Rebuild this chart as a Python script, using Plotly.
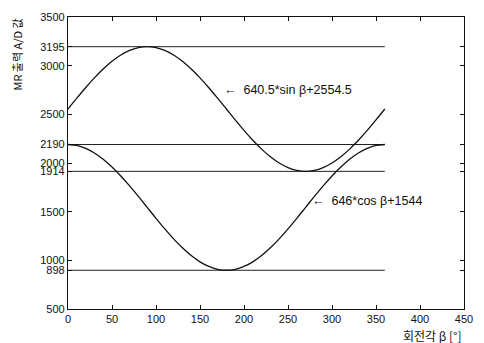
import plotly.graph_objects as go

beta = [0, 10, 20, 30, 40, 50, 60, 70, 80, 90, 100, 110, 120, 130, 140, 150, 160, 170, 180,
        190, 200, 210, 220, 230, 240, 250, 260, 270, 280, 290, 300, 310, 320, 330, 340, 350, 360]
sin_curve = [2554.5, 2665.7, 2773.6, 2874.8, 2966.2, 3045.1, 3109.2, 3156.4, 3185.3, 3195.0,
             3185.3, 3156.4, 3109.2, 3045.1, 2966.2, 2874.8, 2773.6, 2665.7, 2554.5,
             2443.3, 2335.4, 2234.3, 2142.8, 2063.9, 1999.8, 1952.6, 1923.7, 1914.0,
             1923.7, 1952.6, 1999.8, 2063.9, 2142.8, 2234.3, 2335.4, 2443.3, 2554.5]
cos_curve = [2190.0, 2180.2, 2151.0, 2103.5, 2038.9, 1959.2, 1867.0, 1764.9, 1656.2, 1544.0,
             1431.8, 1323.1, 1221.0, 1128.8, 1049.1, 984.5, 937.0, 907.8, 898.0,
             907.8, 937.0, 984.5, 1049.1, 1128.8, 1221.0, 1323.1, 1431.8, 1544.0,
             1656.2, 1764.9, 1867.0, 1959.2, 2038.9, 2103.5, 2151.0, 2180.2, 2190.0]
ref_levels = [3195, 2190, 1914, 898]
ref_x = [0, 360]
y_ticks = [500, 898, 1000, 1500, 1914, 2000, 2190, 2500, 3000, 3195, 3500]
x_ticks = [0, 50, 100, 150, 200, 250, 300, 350, 400, 450]

fig = go.Figure()
for lv in ref_levels:
    fig.add_trace(go.Scatter(x=ref_x, y=[lv, lv], mode="lines",
                             line=dict(color="#222", width=1), showlegend=False, hoverinfo="skip"))
fig.add_trace(go.Scatter(x=beta, y=sin_curve, mode="lines", line=dict(color="#111", width=1.3, shape="spline"),
                         showlegend=False))
fig.add_trace(go.Scatter(x=beta, y=cos_curve, mode="lines", line=dict(color="#111", width=1.3, shape="spline"),
                         showlegend=False))

font = dict(family="Liberation Sans, Arial, sans-serif", size=11, color="#111")
afont = dict(family="Liberation Sans, Arial, sans-serif", size=12.5, color="#111")
fig.add_annotation(x=175, y=2745, xref="x", yref="y", text="←  640.5*sin β+2554.5", showarrow=False,
                   xanchor="left", yanchor="middle", font=afont)
fig.add_annotation(x=275, y=1607, xref="x", yref="y", text="←  646*cos β+1544", showarrow=False,
                   xanchor="left", yanchor="middle", font=afont)
fig.add_annotation(x=1.0, y=-0.055, xref="paper", yref="paper", text="회전각 β [°]", showarrow=False,
                   xanchor="right", yanchor="top",
                   font=dict(family="Noto Sans CJK KR, sans-serif", size=12, color="#111"))
fig.add_annotation(x=-0.13, y=1.0, xref="paper", yref="paper", text="MR 출력 A/D 값", showarrow=False,
                   textangle=-90, xanchor="center", yanchor="top",
                   font=dict(family="Noto Sans CJK KR, sans-serif", size=11, color="#111"))

axis_common = dict(showline=True, linecolor="#111", linewidth=1.2, mirror="ticks", ticks="inside",
                   ticklen=4, tickcolor="#111", showgrid=False, zeroline=False, tickfont=font)
fig.update_xaxes(range=[0, 450], tickvals=x_ticks, **axis_common)
fig.update_yaxes(range=[500, 3500], tickvals=y_ticks, **axis_common)

fig.update_layout(width=484, height=343, margin=dict(l=68, r=11, t=11, b=34),
                  plot_bgcolor="white", paper_bgcolor="white")
fig.write_html("out.html")
